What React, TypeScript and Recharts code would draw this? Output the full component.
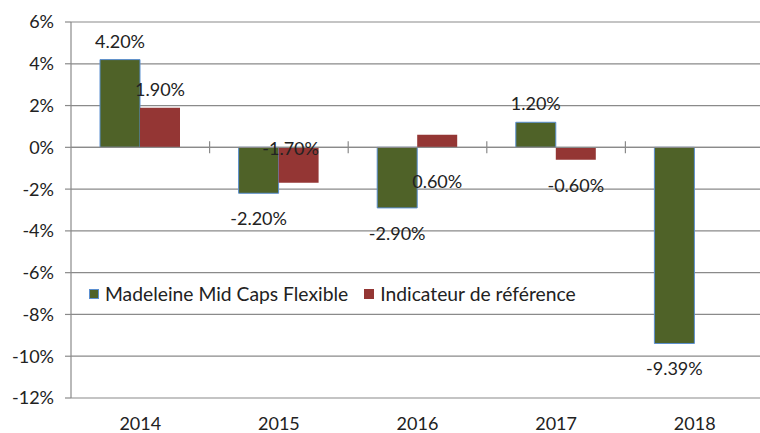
import React from 'react';
import { BarChart, Bar, XAxis, YAxis, CartesianGrid, ReferenceLine, LabelList } from 'recharts';

const years = ['2014', '2015', '2016', '2017', '2018'];
const fundValues: (number | null)[] = [4.2, -2.2, -2.9, 1.2, -9.39];
const benchmarkValues: (number | null)[] = [1.9, -1.7, 0.6, -0.6, null];
const yTicks = [-12, -10, -8, -6, -4, -2, 0, 2, 4, 6];

const FUND_NAME = 'Madeleine Mid Caps Flexible';
const BENCH_NAME = 'Indicateur de référence';
const FUND_COLOR = '#4F6228';
const BENCH_COLOR = '#943634';
const BORDER_BLUE = '#5B8FD0';
const GRID = '#8A8A8A';
const TEXT = '#222222';
const FONT = 'Lato, "Liberation Sans", sans-serif';

const data = years.map((y, i) => ({ year: y, fund: fundValues[i], bench: benchmarkValues[i] }));

// manual label nudges (as in the original chart)
const benchNudges: Record<number, { dx: number; dy: number }> = {
  1: { dx: -8, dy: -60 },
  2: { dx: 0, dy: 65 },
};

const fmt = (v: number) => `${v.toFixed(2)}%`;

const makeLabel = (nudges: Record<number, { dx: number; dy: number }>) => (props: any) => {
  const { x, y, width, height, value, index } = props;
  if (value === null || value === undefined) return null;
  const top = Math.min(y, y + height);
  const bottom = Math.max(y, y + height);
  const cx = x + width / 2;
  let cy = value >= 0 ? top - 19 : bottom + 25;
  let dx = 0;
  const n = nudges[index];
  if (n) {
    cy += n.dy;
    dx = n.dx;
  }
  return (
    <text x={cx + dx} y={cy} textAnchor="middle" dominantBaseline="central" fontSize={18} fontFamily={FONT} fill={TEXT}>
      {fmt(value)}
    </text>
  );
};

const ZeroAxis = (props: any) => {
  const { x1, x2, y1 } = props;
  const n = years.length;
  const step = (x2 - x1) / n;
  const ticks = [];
  for (let i = 1; i < n; i++) {
    const x = x1 + i * step;
    ticks.push(<line key={i} x1={x} x2={x} y1={y1 - 6} y2={y1 + 6} stroke={GRID} strokeWidth={1.2} />);
  }
  return (
    <g>
      <line x1={x1} x2={x2} y1={y1} y2={y1} stroke={GRID} strokeWidth={1.2} />
      {ticks}
    </g>
  );
};

const legendItems = [
  { name: FUND_NAME, color: FUND_COLOR, border: BORDER_BLUE },
  { name: BENCH_NAME, color: BENCH_COLOR, border: BENCH_COLOR },
];

export default function App() {
  return (
    <div style={{ position: 'absolute', left: 0, top: 0, width: 760, height: 433, overflow: 'hidden', background: '#fff' }}>
      <BarChart width={771} height={433} data={data} margin={{ top: 22, right: 7, bottom: 0, left: 1 }} barSize={40} barGap={0}>
        <CartesianGrid horizontal vertical={false} stroke={GRID} strokeWidth={1.2} />
        <YAxis
          type="number"
          domain={[-12, 6]}
          ticks={yTicks}
          interval={0}
          width={70}
          tickFormatter={(v: number) => `${v}%`}
          axisLine={{ stroke: GRID, strokeWidth: 1.2 }}
          tickLine={{ stroke: GRID, strokeWidth: 1.2 }}
          tickSize={6}
          tickMargin={11}
          tick={{ fontSize: 18, fontFamily: FONT, fill: TEXT }}
        />
        <XAxis
          dataKey="year"
          height={35}
          axisLine={false}
          tickLine={false}
          tickSize={0}
          tickMargin={19}
          interval={0}
          tick={{ fontSize: 18, fontFamily: FONT, fill: TEXT }}
        />
        <Bar dataKey="fund" name={FUND_NAME} fill={FUND_COLOR} stroke={BORDER_BLUE} strokeWidth={1} isAnimationActive={false}>
          <LabelList dataKey="fund" content={makeLabel({})} />
        </Bar>
        <Bar dataKey="bench" name={BENCH_NAME} fill={BENCH_COLOR} isAnimationActive={false}>
          <LabelList dataKey="bench" content={makeLabel(benchNudges)} />
        </Bar>
        <ReferenceLine y={0} shape={ZeroAxis} />
      </BarChart>
      <div style={{ position: 'absolute', left: 89, top: 282, display: 'flex', alignItems: 'center', fontFamily: FONT, fontSize: 19.3, color: TEXT, whiteSpace: 'nowrap' }}>
        {legendItems.map((it, i) => (
          <div key={i} style={{ display: 'flex', alignItems: 'center', marginRight: i === 0 ? 16 : 0 }}>
            <span style={{ display: 'inline-block', width: 8, height: 8, background: it.color, border: `1px solid ${it.border}`, marginRight: 6 }} />
            <span>{it.name}</span>
          </div>
        ))}
      </div>
    </div>
  );
}
